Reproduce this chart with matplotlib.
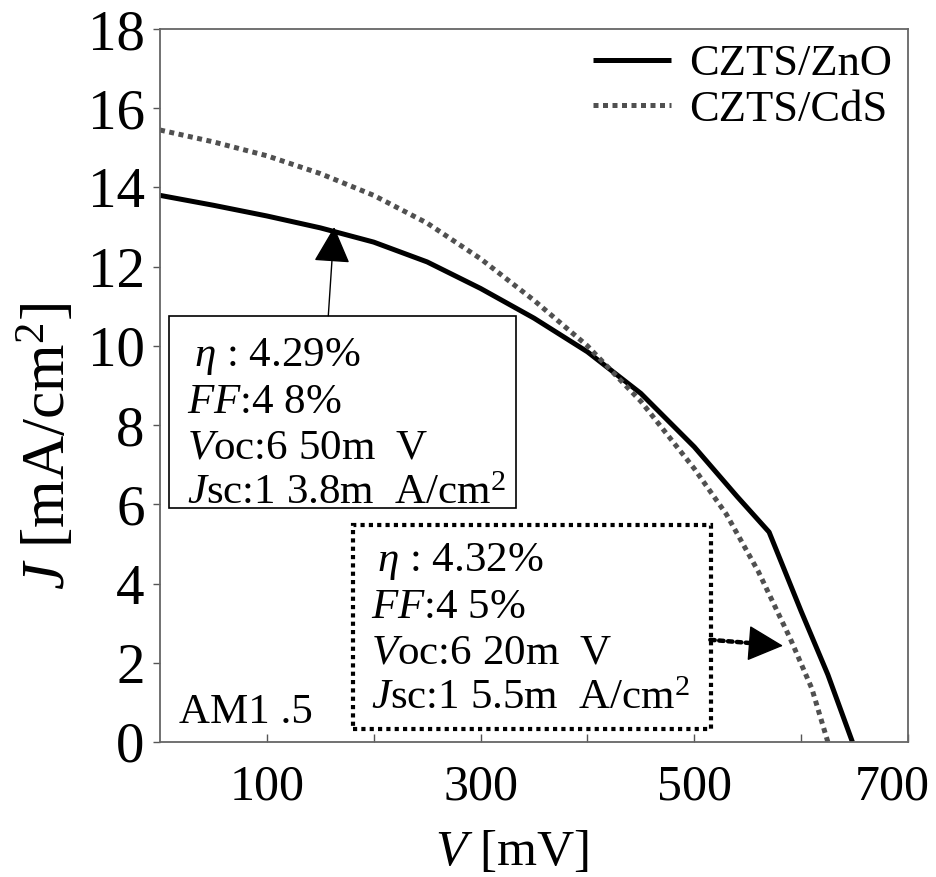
import matplotlib
matplotlib.use("Agg")
import matplotlib.pyplot as plt
import matplotlib.transforms as mtrans
from matplotlib.patches import Rectangle

plt.rcParams['font.family'] = ['Liberation Serif', 'DejaVu Serif']
plt.rcParams['mathtext.fontset'] = 'custom'
plt.rcParams['mathtext.rm'] = 'Liberation Serif'
plt.rcParams['mathtext.it'] = 'Liberation Serif:italic'

# ---- data ----
v_zno = [0, 50, 100, 150, 200, 250, 300, 350, 400, 450, 500, 540, 570, 600, 625, 648]
j_zno = [13.8, 13.55, 13.28, 12.98, 12.62, 12.12, 11.45, 10.7, 9.85, 8.8, 7.45, 6.2, 5.3,
         3.3, 1.7, 0]
v_cds = [0, 50, 100, 150, 200, 250, 300, 350, 400, 450, 500, 530, 560, 590, 610, 625]
j_cds = [15.45, 15.15, 14.8, 14.35, 13.8, 13.1, 12.2, 11.15, 10.0, 8.6, 6.9, 5.75, 4.3, 2.6,
         1.35, 0]
labels = ["CZTS/ZnO", "CZTS/CdS"]
xticks_major = [100, 300, 500, 700]
xticks_minor = [200, 400, 600]
yticks = list(range(0, 19, 2))
box_zno = ["$\\eta$ : 4.29%", "$FF$:4 8%", "$V$oc:6 50m  V", "$J$sc:1 3.8m  A/cm$^2$"]
box_cds = ["$\\eta$ : 4.32%", "$FF$:4 5%", "$V$oc:6 20m  V", "$J$sc:1 5.5m  A/cm$^2$"]

fig = plt.figure(figsize=(9.36, 8.77), dpi=100)
ax = fig.add_axes([160/936, 1-742/877, (908-160)/936, (742-29)/877])

ax.plot(v_zno, j_zno, color='black', lw=3.6, label=labels[0], solid_capstyle='butt',
        solid_joinstyle='round')
ax.plot(v_cds, j_cds, color='#505050', lw=3.6, linestyle=(0, (1, 0.9)), label=labels[1])

ax.set_xlim(0, 700)
ax.set_ylim(0, 18)
ax.set_xticks(xticks_major)
ax.set_xticks(xticks_minor, minor=True)
ax.set_yticks(yticks)
ax.tick_params(axis='x', which='both', direction='in', length=6, width=1, color='#555555',
               labelsize=36, pad=16)
ax.tick_params(axis='y', direction='out', length=5, width=1, color='#555555',
               labelsize=41, pad=6)
for s in ax.spines.values():
    s.set_color('#666666')
    s.set_linewidth(1.3)

# shift last x tick label left so it fits in the figure
fig.canvas.draw()
last = ax.get_xticklabels()[-1]
last.set_transform(last.get_transform() + mtrans.ScaledTranslation(-16/100, 0, fig.dpi_scale_trans))

ax.set_xlabel("$V$ [mV]", fontsize=37)
ax.xaxis.set_label_coords((512-160)/748, -(829-742)/713)
ax.set_ylabel("$J$ [mA/cm$^2$]", fontsize=44)
ax.yaxis.set_label_coords(-(160-78)/748, (742-446)/713)

leg = ax.legend(loc='upper right', bbox_to_anchor=(1.014, 1.016), fontsize=32, frameon=False,
                handlelength=1.75, handletextpad=0.4, labelspacing=0.12, borderpad=0.1)

# box 1 (ZnO)
ax.add_patch(Rectangle((8.4, 5.9), 325, 4.86, fill=False, edgecolor='black', lw=1.2, zorder=3))
for i, t in enumerate(box_zno):
    ax.text(32 if i == 0 else 25, 9.72 - i * 1.15, t, fontsize=31, va='center', ha='left')
ax.annotate("", xy=(163, 13.0), xytext=(157.5, 10.76),
            arrowprops=dict(arrowstyle='-|>,head_length=1.15,head_width=0.58', color='black',
                            lw=1, mutation_scale=20, shrinkA=0, shrinkB=0))

# box 2 (CdS)
ax.add_patch(Rectangle((180.8, 0.33), 334.6, 5.14, fill=False, edgecolor='black', lw=3,
                       linestyle=(0, (1, 1)), zorder=3))
for i, t in enumerate(box_cds):
    ax.text(203 if i == 0 else 197, 4.55 - i * 1.15, t, fontsize=31, va='center', ha='left')
ax.annotate("", xy=(556, 2.49), xytext=(515, 2.58),
            arrowprops=dict(arrowstyle='-', color='black', lw=3.2, linestyle=(0, (1, 1)),
                            shrinkA=0, shrinkB=0))
ax.annotate("", xy=(583, 2.43), xytext=(554, 2.49),
            arrowprops=dict(arrowstyle='-|>,head_length=1.15,head_width=0.58', color='black',
                            lw=1, mutation_scale=20, shrinkA=0, shrinkB=0))

ax.text(18, 0.75, "AM1 .5", fontsize=31, va='center', ha='left')

fig.savefig("out.png", dpi=100)
